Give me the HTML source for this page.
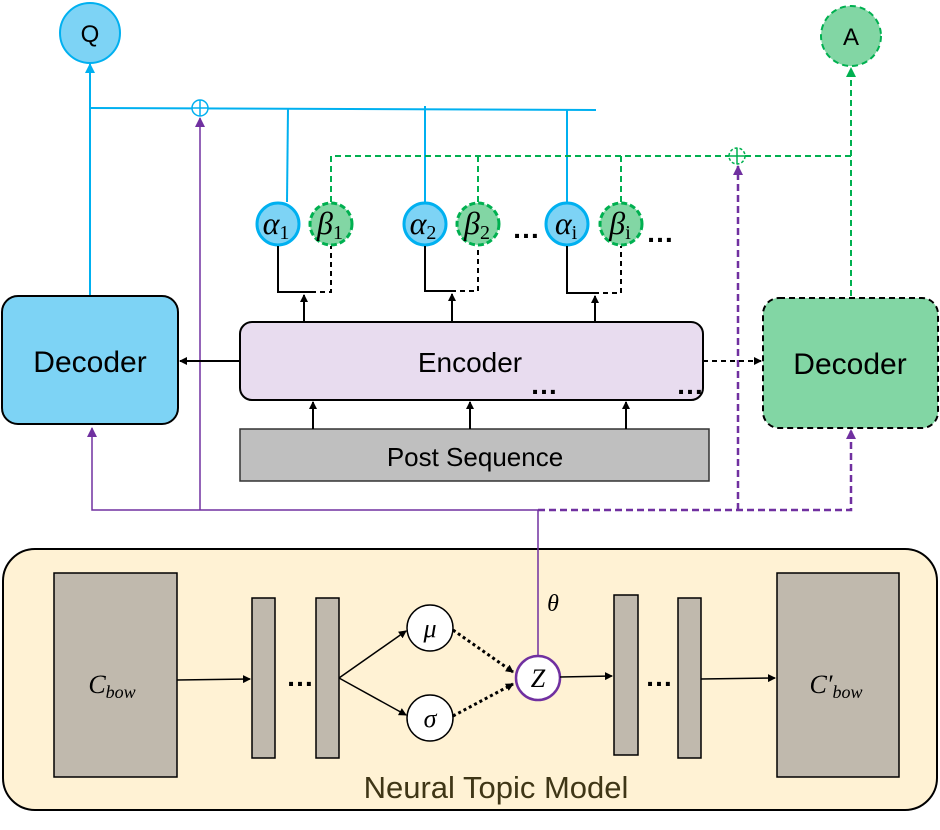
<!DOCTYPE html>
<html><head><meta charset="utf-8"><style>body{margin:0;background:#fff}svg{display:block}</style></head><body>
<svg width="940" height="830" viewBox="0 0 940 830" xmlns="http://www.w3.org/2000/svg" font-family="Liberation Sans, sans-serif">
<defs>
<marker id="ab" markerWidth="8" markerHeight="8" refX="7" refY="4" orient="auto" markerUnits="userSpaceOnUse"><path d="M0,0L8,4L0,8z" fill="#000"/></marker>
<marker id="abl" markerWidth="10" markerHeight="10" refX="9" refY="5" orient="auto" markerUnits="userSpaceOnUse"><path d="M0,0L10,5L0,10z" fill="#00b0f0"/></marker>
<marker id="ag" markerWidth="10" markerHeight="10" refX="9" refY="5" orient="auto" markerUnits="userSpaceOnUse"><path d="M0,0L10,5L0,10z" fill="#00b050"/></marker>
<marker id="ap" markerWidth="10" markerHeight="10" refX="9" refY="5" orient="auto" markerUnits="userSpaceOnUse"><path d="M0,0L10,5L0,10z" fill="#7030a0"/></marker>
</defs>
<rect x="3" y="549" width="934" height="261" rx="32" fill="#fff2d4" stroke="#000" stroke-width="2"/>
<text x="496" y="798" font-size="31" fill="#3f3616" text-anchor="middle">Neural Topic Model</text>
<rect x="54" y="573" width="123" height="204" fill="#c0b9ad" stroke="#000" stroke-width="1.5"/>
<text x="112" y="693" font-size="26" font-style="italic" text-anchor="middle" font-family="Liberation Serif, serif">C<tspan font-size="18" dy="5">bow</tspan></text>
<rect x="252" y="598" width="23" height="160" fill="#c0b9ad" stroke="#000" stroke-width="1.5"/>
<rect x="316" y="598" width="23" height="160" fill="#c0b9ad" stroke="#000" stroke-width="1.5"/>
<text x="300" y="686" font-size="28" text-anchor="middle" font-weight="bold">…</text>
<rect x="614" y="595" width="24" height="160" fill="#c0b9ad" stroke="#000" stroke-width="1.5"/>
<rect x="678" y="598" width="23" height="160" fill="#c0b9ad" stroke="#000" stroke-width="1.5"/>
<text x="659" y="686" font-size="28" text-anchor="middle" font-weight="bold">…</text>
<rect x="777" y="573" width="122" height="204" fill="#c0b9ad" stroke="#000" stroke-width="1.5"/>
<text x="836" y="693" font-size="26" font-style="italic" text-anchor="middle" font-family="Liberation Serif, serif">C′<tspan font-size="18" dy="5">bow</tspan></text>
<line x1="177" y1="680" x2="250" y2="679" stroke="#000" stroke-width="1.5" marker-end="url(#ab)"/>
<line x1="339" y1="678" x2="406" y2="631" stroke="#000" stroke-width="1.5" marker-end="url(#ab)"/>
<line x1="339" y1="678" x2="406" y2="715" stroke="#000" stroke-width="1.5" marker-end="url(#ab)"/>
<circle cx="430" cy="628" r="23" fill="#fff" stroke="#000" stroke-width="1.5"/>
<circle cx="430" cy="718" r="23" fill="#fff" stroke="#000" stroke-width="1.5"/>
<text x="430" y="637" font-size="26" font-style="italic" text-anchor="middle" font-family="Liberation Serif, serif">μ</text>
<text x="430" y="727" font-size="26" font-style="italic" text-anchor="middle" font-family="Liberation Serif, serif">σ</text>
<line x1="453" y1="630" x2="513" y2="672" stroke="#000" stroke-width="3" stroke-dasharray="3,3" marker-end="url(#ab)"/>
<line x1="453" y1="716" x2="513" y2="684" stroke="#000" stroke-width="3" stroke-dasharray="3,3" marker-end="url(#ab)"/>
<circle cx="538" cy="678" r="22" fill="#fff" stroke="#7030a0" stroke-width="2.5"/>
<text x="538" y="687" font-size="26" font-style="italic" text-anchor="middle" font-family="Liberation Serif, serif">Z</text>
<line x1="560" y1="677" x2="612" y2="676" stroke="#000" stroke-width="1.5" marker-end="url(#ab)"/>
<line x1="701" y1="679" x2="775" y2="678" stroke="#000" stroke-width="1.5" marker-end="url(#ab)"/>
<text x="553" y="611" font-size="24" font-style="italic" text-anchor="middle" font-family="Liberation Serif, serif">θ</text>
<line x1="538" y1="656" x2="538" y2="510" stroke="#7030a0" stroke-width="1.5"/>
<polyline points="538,510 92,510 92,428" fill="none" stroke="#7030a0" stroke-width="1.5" marker-end="url(#ap)"/>
<line x1="200" y1="510" x2="200" y2="118" stroke="#7030a0" stroke-width="1.5" marker-end="url(#ap)"/>
<polyline points="538,510 851,510 851,430" fill="none" stroke="#7030a0" stroke-width="2.5" stroke-dasharray="7,4" marker-end="url(#ap)"/>
<line x1="738" y1="510" x2="738" y2="166" stroke="#7030a0" stroke-width="2.5" stroke-dasharray="7,4" marker-end="url(#ap)"/>
<line x1="90" y1="108" x2="596" y2="110" stroke="#00b0f0" stroke-width="2"/>
<line x1="90" y1="296" x2="90" y2="64" stroke="#00b0f0" stroke-width="2" marker-end="url(#abl)"/>
<circle cx="200" cy="108" r="8" fill="#fff" stroke="#00b0f0" stroke-width="1.5"/>
<line x1="192" y1="108" x2="208" y2="108" stroke="#00b0f0" stroke-width="1.5"/><line x1="200" y1="100" x2="200" y2="116" stroke="#00b0f0" stroke-width="1.5"/>
<line x1="288" y1="108" x2="287" y2="202" stroke="#00b0f0" stroke-width="2"/>
<line x1="425" y1="106" x2="425" y2="202" stroke="#00b0f0" stroke-width="2"/>
<line x1="567" y1="110" x2="567" y2="202" stroke="#00b0f0" stroke-width="2"/>
<polyline points="331,202 331,156 851,156" fill="none" stroke="#00b050" stroke-width="2" stroke-dasharray="6,4"/>
<line x1="478" y1="156" x2="478" y2="202" stroke="#00b050" stroke-width="2" stroke-dasharray="6,4"/>
<line x1="621" y1="156" x2="621" y2="202" stroke="#00b050" stroke-width="2" stroke-dasharray="6,4"/>
<line x1="851" y1="296" x2="851" y2="68" stroke="#00b050" stroke-width="2" stroke-dasharray="6,4" marker-end="url(#ag)"/>
<circle cx="737" cy="156" r="8" fill="#fff" stroke="#00b050" stroke-width="1.5" stroke-dasharray="3,2"/>
<line x1="729" y1="156" x2="745" y2="156" stroke="#00b050" stroke-width="1.5"/><line x1="737" y1="148" x2="737" y2="164" stroke="#00b050" stroke-width="1.5"/>
<circle cx="90" cy="33" r="30" fill="#7dd3f5" stroke="#00b0f0" stroke-width="2"/>
<text x="90" y="42" font-size="24" text-anchor="middle">Q</text>
<circle cx="851" cy="36" r="30" fill="#82d6a4" stroke="#00b050" stroke-width="2" stroke-dasharray="6,4"/>
<text x="851" y="45" font-size="24" text-anchor="middle">A</text>
<g font-family="Liberation Serif, serif" font-style="italic" font-size="32">
<circle cx="278" cy="224" r="21" fill="#7dd3f5" stroke="#00b0f0" stroke-width="3"/><text x="276" y="234" text-anchor="middle">α<tspan font-style="normal" font-size="20" dy="5">1</tspan></text>
<circle cx="331" cy="224" r="21" fill="#82d6a4" stroke="#00b050" stroke-width="3" stroke-dasharray="6,3"/><text x="330" y="234" text-anchor="middle">β<tspan font-style="normal" font-size="20" dy="5">1</tspan></text>
<circle cx="425" cy="224" r="21" fill="#7dd3f5" stroke="#00b0f0" stroke-width="3"/><text x="423" y="234" text-anchor="middle">α<tspan font-style="normal" font-size="20" dy="5">2</tspan></text>
<circle cx="478" cy="224" r="21" fill="#82d6a4" stroke="#00b050" stroke-width="3" stroke-dasharray="6,3"/><text x="477" y="234" text-anchor="middle">β<tspan font-style="normal" font-size="20" dy="5">2</tspan></text>
<circle cx="567" cy="224" r="21" fill="#7dd3f5" stroke="#00b0f0" stroke-width="3"/><text x="566" y="234" text-anchor="middle">α<tspan font-style="normal" font-size="20" dy="5">i</tspan></text>
<circle cx="621" cy="224" r="21" fill="#82d6a4" stroke="#00b050" stroke-width="3" stroke-dasharray="6,3"/><text x="620" y="234" text-anchor="middle">β<tspan font-style="normal" font-size="20" dy="5">i</tspan></text>
</g>
<text x="512" y="238" font-size="28" font-weight="bold">…</text>
<text x="646" y="242" font-size="28" font-weight="bold">…</text>
<g stroke="#000" stroke-width="2" fill="none">
<polyline points="278,246 278,292 311,292"/><polyline points="311,292 331,292 331,246" stroke-dasharray="5,4"/>
<polyline points="425,246 425,291 451,291"/><polyline points="451,291 478,291 478,246" stroke-dasharray="5,4"/>
<polyline points="567,246 567,293 594,293"/><polyline points="594,293 621,293 621,246" stroke-dasharray="5,4"/>
</g>
<line x1="304" y1="322" x2="304" y2="295" stroke="#000" stroke-width="2" marker-end="url(#ab)"/>
<line x1="452" y1="322" x2="452" y2="294" stroke="#000" stroke-width="2" marker-end="url(#ab)"/>
<line x1="595" y1="322" x2="595" y2="296" stroke="#000" stroke-width="2" marker-end="url(#ab)"/>
<rect x="240" y="322" width="463" height="78" rx="12" fill="#e8dcef" stroke="#000" stroke-width="2"/>
<text x="470" y="372" font-size="28" text-anchor="middle">Encoder</text>
<rect x="240" y="429" width="469" height="52" fill="#bfbfbf" stroke="#333" stroke-width="1.5"/>
<text x="475" y="466" font-size="26" text-anchor="middle">Post Sequence</text>
<line x1="313" y1="429" x2="313" y2="402" stroke="#000" stroke-width="2" marker-end="url(#ab)"/>
<line x1="470" y1="429" x2="470" y2="402" stroke="#000" stroke-width="2" marker-end="url(#ab)"/>
<line x1="626" y1="429" x2="626" y2="402" stroke="#000" stroke-width="2" marker-end="url(#ab)"/>
<text x="530" y="394" font-size="28" font-weight="bold">…</text>
<text x="676" y="394" font-size="28" font-weight="bold">…</text>
<rect x="2" y="296" width="176" height="128" rx="16" fill="#7dd3f5" stroke="#000" stroke-width="2"/>
<text x="90" y="372" font-size="30" text-anchor="middle">Decoder</text>
<line x1="240" y1="361" x2="180" y2="361" stroke="#000" stroke-width="2" marker-end="url(#ab)"/>
<rect x="763" y="298" width="175" height="130" rx="16" fill="#82d6a4" stroke="#000" stroke-width="2" stroke-dasharray="6,4"/>
<text x="850" y="374" font-size="30" text-anchor="middle">Decoder</text>
<line x1="703" y1="361" x2="761" y2="361" stroke="#000" stroke-width="2" stroke-dasharray="5,4" marker-end="url(#ab)"/>
</svg>
</body></html>
